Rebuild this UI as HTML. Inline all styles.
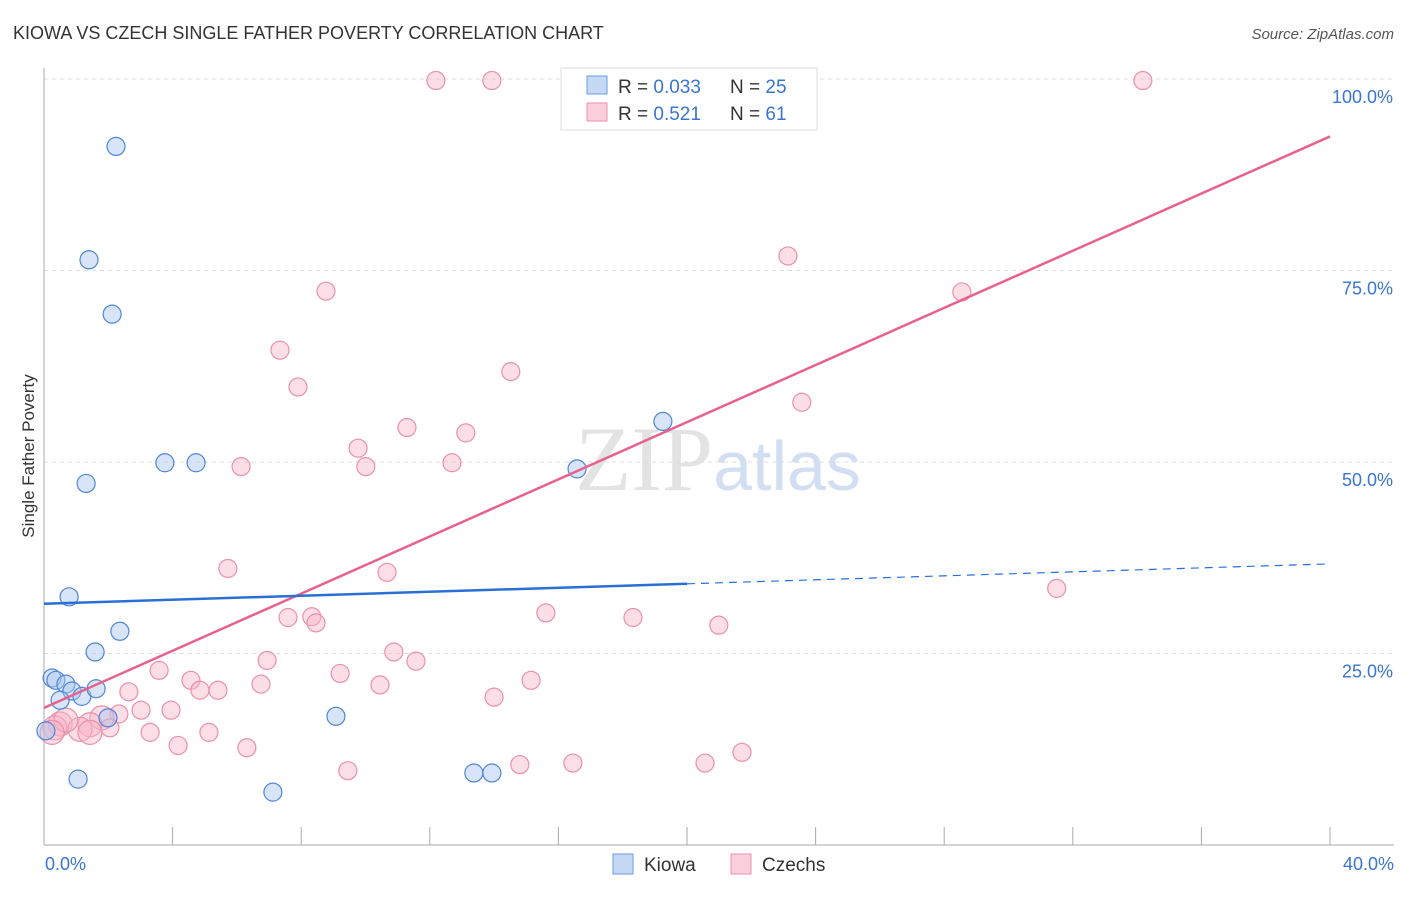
<!DOCTYPE html>
<html><head><meta charset="utf-8"><style>
body{margin:0;background:#fff;font-family:"Liberation Sans",sans-serif;}
</style></head><body>
<svg id="chart" width="1406" height="892" xmlns="http://www.w3.org/2000/svg" font-family="Liberation Sans, sans-serif">
<text x="13" y="39" font-size="18" fill="#333">KIOWA VS CZECH SINGLE FATHER POVERTY CORRELATION CHART</text>
<text x="1394" y="39" font-size="15" fill="#555" text-anchor="end" font-style="italic">Source: ZipAtlas.com</text>
<text x="718" y="490" font-size="92" text-anchor="middle" font-family="Liberation Serif, serif" fill="#ddd" opacity="0.8">ZIP<tspan fill="#c8d8f0" font-family="Liberation Sans, sans-serif" font-size="70">atlas</tspan></text>
<g id="grid"></g>
<g id="axes"></g>
<g id="marks"></g>
<text transform="translate(34,456) rotate(-90)" font-size="17" fill="#333" text-anchor="middle">Single Father Poverty</text>
<g>
<rect x="561" y="68" width="256" height="62" fill="#fff" stroke="#ddd"/>
<rect x="587" y="76" width="20" height="18" fill="#c5d9f5" stroke="#6a9be0"/>
<rect x="587" y="103" width="20" height="18" fill="#fbd0dc" stroke="#ec90ab"/>
<text x="618" y="93" font-size="19" fill="#333">R = <tspan fill="#3a75d0">0.033</tspan></text>
<text x="730" y="93" font-size="19" fill="#333">N = <tspan fill="#3a75d0">25</tspan></text>
<text x="618" y="120" font-size="19" fill="#333">R =  <tspan fill="#3a75d0">0.521</tspan></text>
<text x="730" y="120" font-size="19" fill="#333">N =  <tspan fill="#3a75d0">61</tspan></text>
</g>
<g>
<rect x="613" y="854" width="20" height="20" fill="#c5d9f5" stroke="#6a9be0"/>
<text x="644" y="871" font-size="19" fill="#333">Kiowa</text>
<rect x="731" y="854" width="20" height="20" fill="#fbd0dc" stroke="#ec90ab"/>
<text x="762" y="871" font-size="19" fill="#333">Czechs</text>
</g>
</svg>
<script>
const kiowaX=[2.24,1.40,2.12,3.76,4.73,1.31,0.78,2.36,1.59,0.25,0.37,0.68,0.87,1.18,1.62,0.50,1.99,0.06,9.08,16.58,19.25,1.06,7.12,13.37,13.93];
const kiowaY=[91.2,76.4,69.3,49.9,49.9,47.2,32.4,27.9,25.2,21.8,21.5,21.0,20.1,19.4,20.4,18.9,16.6,14.9,16.8,49.1,55.3,8.6,6.9,9.4,9.4];
const czechX=[12.19,13.93,19.06,22.02,34.18,23.14,28.55,8.77,7.34,7.90,14.52,23.57,11.29,13.12,9.77,6.13,10.01,12.69,5.72,10.67,31.50,15.61,18.32,7.59,8.33,8.46,20.99,6.94,10.88,11.57,3.58,9.21,4.57,15.15,6.75,10.45,2.64,4.85,5.41,14.00,3.02,3.95,2.33,1.80,1.43,0.50,0.34,1.12,1.43,2.05,3.30,5.13,4.17,6.31,9.45,14.80,16.45,20.56,21.71,0.68,0.25];
const czechY=[99.8,99.8,99.8,99.8,99.8,76.9,72.2,72.3,64.6,59.8,61.8,57.8,54.5,53.8,51.8,49.4,49.4,49.9,36.1,35.6,33.5,30.3,29.7,29.7,29.8,29.0,28.7,24.1,25.2,24.0,22.8,22.4,21.5,21.5,21.0,20.9,20.0,20.2,20.2,19.3,17.6,17.6,17.1,16.6,15.7,15.8,15.3,15.1,14.7,15.3,14.7,14.7,13.0,12.7,9.7,10.5,10.7,10.7,12.1,16.3,14.7];
const yTicks=[25,50,75,100];
const yTickLabels=["25.0%","50.0%","75.0%","100.0%"];
const xEndLabels=["0.0%","40.0%"];
const kiowaTrend=[31.5,36.7];
const czechTrend=[17.9,92.5];
const NS="http://www.w3.org/2000/svg";
const sx=v=>44+v/40*1286, sy=v=>845-v/100*766;
function mk(tag,attrs,parent){const e=document.createElementNS(NS,tag);for(const k in attrs)e.setAttribute(k,attrs[k]);document.getElementById(parent).appendChild(e);return e;}
yTicks.forEach((t,i)=>{
  const l=mk('line',{x1:44,x2:1394,y1:sy(t),y2:sy(t),stroke:'#ddd','stroke-dasharray':'4,4'},'grid');
  
  
  const tx=mk('text',{x:1393,y:sy(t)+24,'font-size':18,fill:'#3a75d0','text-anchor':'end'},'axes');
  tx.textContent=yTickLabels[i];
  
  
});
const ax=mk('line',{x1:44,x2:44,y1:68,y2:845,stroke:'#aaa'},'axes');


const bx=mk('line',{x1:44,x2:1394,y1:845,y2:845,stroke:'#aaa'},'axes');


for(let i=1;i<=10;i++){const t=mk('line',{x1:sx(i*4),x2:sx(i*4),y1:827,y2:845,stroke:'#aaa'},'axes');
  
  }
[[0,'start',45],[40,'end',1394]].forEach((a,i)=>{const t=mk('text',{x:a[2],y:870,'font-size':18,fill:'#3a75d0','text-anchor':a[1]},'axes');t.textContent=xEndLabels[i];
  
  });
czechX.forEach((x,i)=>{const c=mk('circle',{cx:sx(x),cy:sy(czechY[i]),r:(x<2&&czechY[i]<17)?12:9,fill:'#f7b6c8','fill-opacity':0.45,stroke:'#ec90ab','stroke-width':1.2},'marks');
  
  });
kiowaX.forEach((x,i)=>{const c=mk('circle',{cx:sx(x),cy:sy(kiowaY[i]),r:9,fill:'#a9c6ef','fill-opacity':0.45,stroke:'#4f86d8','stroke-width':1.2},'marks');
  
  });
const ct=mk('line',{x1:sx(0),y1:sy(czechTrend[0]),x2:sx(40),y2:sy(czechTrend[1]),stroke:'#e8628e','stroke-width':2.5},'marks');


const km=kiowaTrend[0]+(kiowaTrend[1]-kiowaTrend[0])*0.5;
const kt=mk('line',{x1:sx(0),y1:sy(kiowaTrend[0]),x2:sx(20),y2:sy(km),stroke:'#2a6fd6','stroke-width':2.5},'marks');


const kd=mk('line',{x1:sx(20),y1:sy(km),x2:sx(40),y2:sy(kiowaTrend[1]),stroke:'#2a6fd6','stroke-width':1.2,'stroke-dasharray':'8,6'},'marks');


</script>
</body></html>
